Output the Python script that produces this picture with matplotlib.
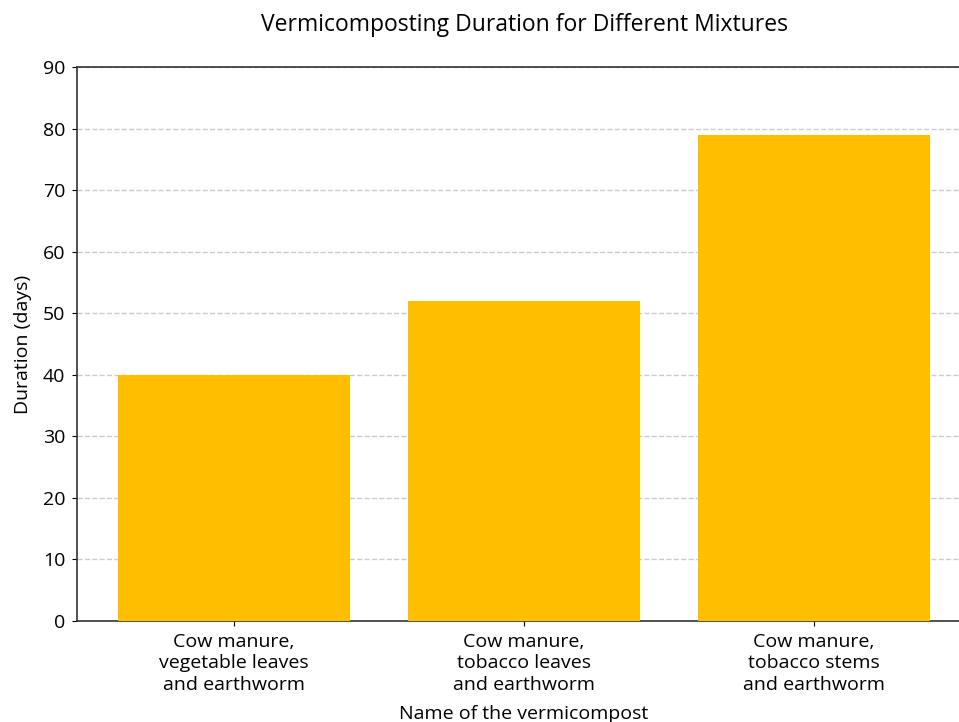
import matplotlib.pyplot as plt

plt.rcParams['font.family'] = ['Open Sans', 'DejaVu Sans']

mixtures = [
    'Cow manure,\nvegetable leaves\nand earthworm',
    'Cow manure,\ntobacco leaves\nand earthworm',
    'Cow manure,\ntobacco stems\nand earthworm',
]
duration_days = [40, 52, 79]

fig = plt.figure(figsize=(9.59, 7.22), dpi=100)
ax = fig.add_axes([0.0803, 0.1399, 0.932, 0.7673])

x = range(len(mixtures))
ax.bar(x, duration_days, width=0.8, color='#FFBF00', zorder=3)

ax.set_xlim(-0.54, 2.54)
ax.set_ylim(0, 90)
ax.set_yticks(range(0, 91, 10))
ax.set_xticks(list(x))
ax.set_xticklabels(mixtures, fontsize=14, linespacing=1.25)
ax.tick_params(axis='y', labelsize=14, pad=5)
ax.tick_params(axis='x', pad=5)
ax.grid(axis='y', linestyle='--', color='#cccccc', linewidth=1, zorder=0)
ax.spines['right'].set_visible(False)
for s in ('left', 'bottom', 'top'):
    ax.spines[s].set_color('#333333')
    ax.spines[s].set_linewidth(1.2)

ax.set_xlabel('Name of the vermicompost', fontsize=14, labelpad=8)
ax.set_ylabel('Duration (days)', fontsize=14, labelpad=8)
fig.text(0.547, 0.966, 'Vermicomposting Duration for Different Mixtures',
         ha='center', va='center', fontsize=16.5)

fig.savefig('out.png', dpi=100)
